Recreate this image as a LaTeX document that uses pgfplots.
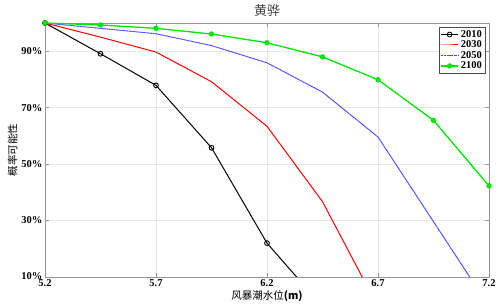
\documentclass[border=0pt]{standalone}
\usepackage{pgfplots}
\pgfplotsset{compat=1.18}
\usepackage{fontspec}
\setmainfont{Liberation Serif}
\newfontfamily\cjk{Noto Sans CJK SC}
\definecolor{gridc}{RGB}{232,232,232}
\definecolor{axc}{RGB}{150,150,150}
\definecolor{gr}{RGB}{0,230,0}
\definecolor{bl}{RGB}{70,70,255}
\begin{document}
\begin{tikzpicture}
\begin{axis}[
  scale only axis, width=444pt, height=254pt,
  xmin=5.2, xmax=7.2, ymin=10, ymax=100,
  xtick={5.2,5.7,6.2,6.7,7.2},
  xticklabels={5.2,5.7,6.2,6.7,7.2},
  ytick={10,30,50,70,90},
  yticklabels={\raisebox{2pt}{10\%},30\%,50\%,70\%,90\%},
  tick label style={font=\fontsize{10.5}{11}\selectfont\bfseries, text=black},
  /pgf/number format/assume math mode=true,
  xticklabel style={yshift=0.5pt},
  yticklabel style={xshift=1pt},
  axis line style={axc, line width=0.6pt},
  tick style={axc, line width=0.5pt},
  major tick length=4pt,
  tick align=inside,
  grid=major,
  major grid style={gridc, line width=0.5pt},
  title={\cjk 黄骅},
  title style={font=\fontsize{13}{14}\selectfont, text=black!75, yshift=-3pt},
  xlabel={\cjk 风暴潮水位\textbf{(m)}},
  xlabel style={font=\fontsize{10.5}{11}\selectfont, yshift=3pt},
  ylabel={\cjk 概率可能性},
  ylabel style={font=\fontsize{10.5}{11}\selectfont, yshift=-3pt},
  legend style={at={(rel axis cs:0.991,0.984)}, anchor=north east, draw=black!70, font=\fontsize{10.5}{11}\selectfont\bfseries, inner sep=1pt, row sep=-2pt},
  legend cell align=left,
  clip mode=individual,
]
\addplot[black, line width=1pt, mark=o, mark size=2.4pt, mark options={solid, line width=0.9pt}] coordinates {
(5.2,100) (5.45,89.1) (5.7,77.9) (5.95,55.8) (6.2,22) (6.45,-0.5)};
\addlegendentry{2010}
\addplot[red, line width=1pt] coordinates {
(5.2,100) (5.45,95) (5.7,89.7) (5.95,79.2) (6.2,63.4) (6.45,36.7) (6.7,-0.6)};
\addlegendentry{2030}
\addplot[bl, line width=1pt, dash pattern=on 1pt off 0.4pt] coordinates {
(5.2,100) (5.45,98.1) (5.7,96.2) (5.95,92) (6.2,85.9) (6.45,75.5) (6.7,59.6) (6.95,29.6) (7.2,-0.4)};
\addlegendentry{2050}
\addplot[gr, line width=1.3pt, mark=*, mark size=2pt, mark options={solid}] coordinates {
(5.2,100) (5.45,99.3) (5.7,98.1) (5.95,96.1) (6.2,93) (6.45,88) (6.7,79.9) (6.95,65.5) (7.2,42.3)};
\addlegendentry{2100}
\end{axis}
\pgfresetboundingbox
\path[use as bounding box] ([xshift=-45pt,yshift=-30pt]current axis.south west) rectangle ([xshift=11pt,yshift=23pt]current axis.north east);
\end{tikzpicture}
\end{document}
